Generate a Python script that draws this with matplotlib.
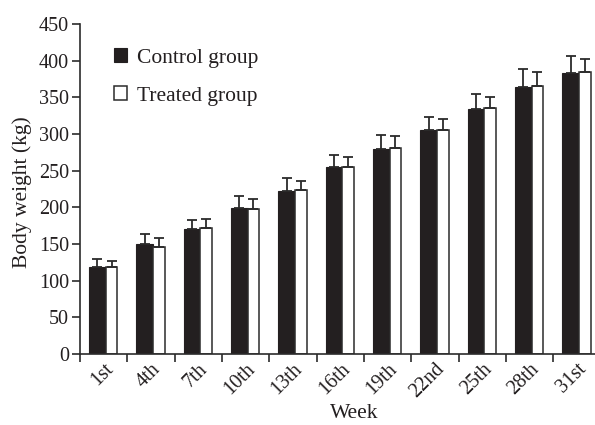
#!/usr/bin/env python3

import numpy as np
import matplotlib
matplotlib.use("Agg")
import matplotlib.pyplot as plt

# values
weeks = ["1st", "4th", "7th", "10th", "13th", "16th", "19th", "22nd", "25th", "28th", "31st"]
control_mean = [118, 150, 170, 199, 222, 255, 280, 306, 334, 364, 383]
control_err = [11, 13, 13, 16, 18, 16, 19, 17, 20, 25, 23]
treated_mean = [118, 146, 172, 198, 224, 255, 281, 306, 335, 365, 384]
treated_err = [9, 12, 12, 14, 12, 14, 16, 14, 16, 19, 18]

plt.rcParams["font.family"] = ["Liberation Serif", "DejaVu Serif"]

LINE = "#2b2b2b"
TEXT = "#231f20"
BLACK_W = 0.355
WHITE_W = 0.24
START = 0.19


def main() -> None:
    fig = plt.figure(figsize=(5.95, 4.25), dpi=100)
    ax = fig.add_axes([0.1345, 0.167, 0.8655, 0.7765])

    x = np.arange(len(weeks))
    xb = x + START + BLACK_W / 2
    xw = x + START + BLACK_W + WHITE_W / 2

    err_kw = dict(ecolor=LINE, elinewidth=1.3, capsize=3.8, capthick=1.3)
    ax.bar(xb, control_mean, width=BLACK_W, color=TEXT, edgecolor=TEXT,
           linewidth=0.8, label="Control group",
           yerr=[np.zeros(len(weeks)), control_err], error_kw=err_kw, zorder=2)
    ax.bar(xw, treated_mean, width=WHITE_W, color="white", edgecolor=LINE,
           linewidth=1.1, label="Treated group",
           yerr=[np.zeros(len(weeks)), treated_err], error_kw=err_kw, zorder=2)

    ax.set_xlim(0, 10.88)
    ax.set_ylim(0, 450)
    ax.set_yticks(np.arange(0, 451, 50))

    ax.set_xticks(x)
    ax.set_xticklabels([])
    ax.set_xticks(x + 0.5, weeks, minor=True)
    ax.tick_params(axis="x", which="minor", length=0, pad=4)
    for lab in ax.get_xticklabels(minor=True):
        lab.set_rotation(45)
        lab.set_ha("right")
        lab.set_rotation_mode("anchor")

    ax.tick_params(which="major", direction="out", length=6, width=1.2, color=LINE,
                   labelsize=14.5, labelcolor=TEXT)
    ax.tick_params(which="minor", labelsize=14.5, labelcolor=TEXT)
    ax.tick_params(axis="y", pad=2)

    for side in ("top", "right"):
        ax.spines[side].set_visible(False)
    for side in ("left", "bottom"):
        ax.spines[side].set_linewidth(1.2)
        ax.spines[side].set_color(LINE)

    ax.set_xlabel("Week", fontsize=15.5, color=TEXT, va="top")
    ax.xaxis.set_label_coords(0.532, -0.152)
    ax.set_ylabel("Body weight (kg)", fontsize=15.5, color=TEXT)
    ax.yaxis.set_label_coords(-0.093, 0.49)

    leg = ax.legend(loc="upper left", bbox_to_anchor=(0.065, 0.928), frameon=False,
                    fontsize=15.5, handlelength=0.65, handleheight=0.65,
                    handletextpad=0.45, labelspacing=0.85, borderpad=0,
                    borderaxespad=0)
    for t in leg.get_texts():
        t.set_color(TEXT)

    fig.savefig("out.png", dpi=100)


if __name__ == "__main__":
    main()
